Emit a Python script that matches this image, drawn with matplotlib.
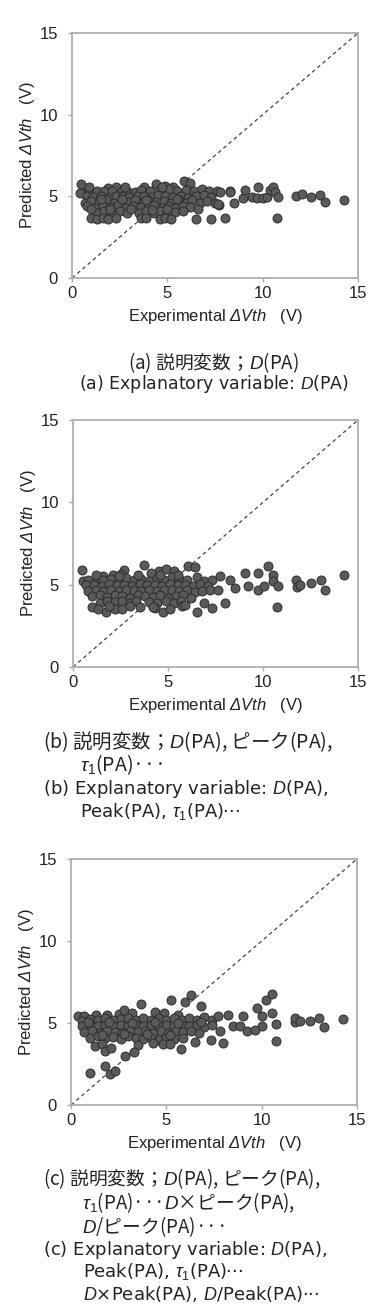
import matplotlib
matplotlib.use("Agg")
import matplotlib.pyplot as plt

# ---- fonts ----
plt.rcParams['font.family'] = ['Liberation Sans', 'DejaVu Sans']
plt.rcParams['mathtext.fontset'] = 'custom'
plt.rcParams['mathtext.rm'] = 'Liberation Sans'
plt.rcParams['mathtext.it'] = 'Liberation Sans:italic'
# sf slot used for fully italic text (Greek capitals included)
plt.rcParams['mathtext.sf'] = 'Liberation Sans:italic'

# ---- data: experimental / predicted dVth (V) ----
a_x = [0.45, 1.9, 2.3, 3.8, 4.4, 4.9, 5.3, 5.9, 6.2,
       0.6, 0.9, 1.3, 1.7, 2.1, 2.6, 2.9, 3.3, 3.6, 4.1, 4.6, 5.1, 5.5, 6.0, 6.4, 6.8, 7.2, 7.6, 8.3,
       0.4, 0.8, 1.1, 1.5, 1.9, 2.3, 2.7, 3.0, 3.4, 3.8, 4.2, 4.5, 4.9, 5.3, 5.7, 6.1, 6.5, 6.9, 7.3,
       0.7, 1.0, 1.4, 1.8, 2.2, 2.6, 3.0, 3.3, 3.7, 4.0, 4.4, 4.8, 5.2, 5.6, 6.0, 6.3, 6.7, 7.1, 7.5, 7.7,
       0.8, 1.2, 1.6, 2.0, 2.4, 2.8, 3.2, 3.6, 4.0, 4.3, 4.7, 5.1, 5.4, 5.8, 6.2,
       1.3, 1.7, 2.1, 2.5, 2.9, 3.5, 3.9, 4.3, 4.6, 5.0, 5.4, 5.8,
       1.0, 1.3, 1.6, 1.9, 2.3, 3.6, 3.9, 4.6, 4.9, 5.2, 6.5, 7.3, 8.0,
       1.0, 2.0, 3.1, 4.2, 5.0, 6.6, 1.5, 2.6, 3.9, 5.5, 0.9, 2.8, 4.7,
       7.76, 7.67, 8.29, 8.51, 8.98, 9.07, 9.42, 9.68, 9.77, 10.03, 10.21, 10.38, 10.56, 10.64,
       10.82, 10.77, 11.75, 12.04, 12.53, 13.0, 13.27, 14.26]
a_y = [5.75, 5.5, 5.55, 5.6, 5.75, 5.65, 5.6, 5.95, 5.8,
       5.2, 5.35, 5.3, 5.3, 5.35, 5.3, 5.35, 5.25, 5.4, 5.35, 5.4, 5.45, 5.3, 5.4, 5.3, 5.45, 5.3, 5.3, 5.3,
       5.2, 5.0, 4.95, 5.05, 4.9, 5.0, 5.05, 4.95, 5.0, 5.05, 4.95, 5.1, 5.0, 4.95, 5.05, 4.9, 5.0, 5.1, 4.95,
       4.6, 4.7, 4.65, 4.75, 4.6, 4.7, 4.65, 4.8, 4.6, 4.75, 4.65, 4.7, 4.6, 4.75, 4.6, 4.75, 4.6, 4.7, 4.6, 4.5,
       4.4, 4.3, 4.4, 4.35, 4.45, 4.3, 4.4, 4.35, 4.3, 4.45, 4.3, 4.4, 4.3, 4.4, 4.35,
       4.0, 4.1, 4.0, 4.1, 3.95, 4.0, 4.1, 4.0, 4.1, 4.0, 4.05, 4.1,
       3.65, 3.6, 3.65, 3.6, 3.65, 3.7, 3.65, 3.6, 3.65, 3.6, 3.6, 3.6, 3.65,
       4.2, 4.2, 4.2, 4.15, 4.2, 4.2, 4.85, 4.85, 4.8, 4.85, 5.55, 5.6, 5.55,
       5.29, 4.51, 5.29, 4.57, 4.88, 5.39, 4.98, 4.88, 5.59, 4.88, 4.98, 5.39, 5.59, 5.29,
       4.98, 3.66, 5.02, 5.12, 4.94, 5.08, 4.63, 4.78]

b_x = [0.46, 1.6, 2.1, 2.7, 3.75, 4.5, 4.9, 5.3, 6.07, 6.4, 2.5, 4.1,
       0.5, 0.8, 1.2, 1.6, 2.0, 2.4, 2.8, 3.2, 3.6, 4.0, 4.4, 4.8, 5.2, 5.6, 6.0, 6.5, 6.9, 7.3, 7.74, 8.26,
       0.7, 1.1, 1.5, 1.9, 2.3, 2.7, 3.1, 3.5, 3.9, 4.3, 4.7, 5.1, 5.5, 5.9, 6.3, 6.7, 7.1,
       0.8, 1.2, 1.6, 2.0, 2.4, 2.8, 3.2, 3.6, 4.0, 4.4, 4.8, 5.2, 5.6, 6.0, 6.4, 6.8, 7.2, 7.65, 8.53,
       1.0, 1.4, 1.8, 2.2, 2.6, 3.0, 3.4, 3.8, 4.2, 4.6, 5.0, 5.4, 5.8, 6.2,
       1.4, 1.8, 2.2, 2.6, 3.0, 3.3, 4.0, 4.4, 4.9, 5.3, 5.7, 6.9, 8.0,
       0.98, 1.3, 1.74, 2.2, 2.6, 3.53, 4.3, 4.75, 5.1, 5.72, 6.5, 7.3,
       1.2, 2.4, 3.4, 4.6, 5.5, 1.9, 3.0, 4.2, 5.9,
       9.05, 9.23, 9.75, 9.75, 10.07, 10.28, 10.54, 10.54, 10.8, 10.75, 11.74, 11.8, 11.95,
       12.53, 13.05, 13.26, 14.26]
b_y = [5.88, 5.5, 5.6, 5.9, 6.18, 5.8, 5.95, 5.8, 6.12, 6.1, 5.65, 5.7,
       5.2, 5.3, 5.25, 5.3, 5.35, 5.3, 5.4, 5.3, 5.35, 5.25, 5.4, 5.3, 5.45, 5.35, 5.3, 5.45, 5.2, 5.3, 5.5, 5.3,
       4.95, 5.0, 4.9, 5.05, 4.95, 5.0, 4.9, 5.05, 4.95, 5.0, 4.9, 5.05, 4.95, 5.0, 4.9, 5.05, 4.9,
       4.6, 4.7, 4.6, 4.7, 4.6, 4.65, 4.7, 4.6, 4.7, 4.6, 4.65, 4.7, 4.6, 4.65, 4.55, 4.6, 4.7, 4.7, 4.8,
       4.3, 4.35, 4.25, 4.35, 4.3, 4.2, 4.35, 4.3, 4.25, 4.35, 4.2, 4.3, 4.35, 4.2,
       3.9, 4.0, 3.95, 4.0, 3.9, 4.0, 3.95, 3.9, 4.0, 3.9, 4.0, 3.9, 3.88,
       3.66, 3.5, 3.35, 3.55, 3.5, 3.66, 3.6, 3.35, 3.5, 3.7, 3.35, 3.56,
       5.6, 5.55, 5.6, 5.6, 5.6, 3.7, 3.7, 3.65, 3.75,
       5.7, 4.89, 5.7, 4.65, 4.89, 6.14, 5.6, 5.25, 4.89, 3.64, 5.3, 4.85, 4.99,
       5.09, 5.3, 4.65, 5.6]

c_x = [0.37, 0.7, 1.3, 1.9, 2.5, 2.8, 3.67, 4.4, 5.26, 5.96, 6.28, 6.83, 3.2, 4.9, 5.6,
       0.6, 1.0, 1.4, 1.8, 2.2, 2.6, 3.0, 3.4, 3.8, 4.2, 4.6, 5.0, 5.4, 5.8, 6.2, 6.6, 7.0, 7.4, 7.72, 8.25,
       0.6, 1.0, 1.4, 1.8, 2.2, 2.6, 3.0, 3.4, 3.8, 4.2, 4.6, 5.0, 5.4, 5.8, 6.2, 6.6, 7.0, 7.4,
       0.7, 1.1, 1.5, 1.9, 2.3, 2.7, 3.1, 3.5, 3.9, 4.3, 4.7, 5.1, 5.5, 5.9, 6.3, 6.7, 7.81,
       1.0, 1.4, 1.8, 2.2, 2.6, 3.0, 3.4, 3.8, 4.2, 4.6, 5.0, 5.4, 5.9, 7.33,
       1.24, 1.6, 1.77, 2.1, 3.51, 4.3, 4.8, 5.2, 5.78, 6.49, 7.97,
       0.98, 1.77, 2.03, 2.29, 2.82, 3.3,
       0.9, 2.0, 3.2, 4.4, 5.6, 6.8, 1.6, 2.8, 4.0, 5.2,
       8.51, 8.86, 9.04, 9.21, 9.65, 9.74, 10.0, 10.0, 10.22, 10.52, 10.52, 10.75, 10.75,
       11.75, 11.75, 12.0, 12.53, 13.02, 13.28, 14.28]
c_y = [5.41, 5.45, 5.5, 5.5, 5.55, 5.8, 6.18, 5.7, 6.38, 6.26, 6.73, 6.05, 5.6, 5.6, 5.5,
       5.1, 5.25, 5.2, 5.3, 5.2, 5.25, 5.3, 5.2, 5.3, 5.2, 5.3, 5.2, 5.3, 5.2, 5.3, 5.2, 5.35, 5.2, 5.41, 5.51,
       4.8, 4.9, 4.8, 4.9, 4.8, 4.85, 4.8, 4.9, 4.8, 4.9, 4.8, 4.9, 4.8, 4.9, 4.8, 4.9, 4.75, 4.85,
       4.45, 4.5, 4.4, 4.5, 4.45, 4.4, 4.5, 4.45, 4.5, 4.4, 4.5, 4.4, 4.5, 4.45, 4.5, 4.4, 4.49,
       4.1, 4.2, 4.1, 4.15, 4.05, 4.2, 4.1, 4.0, 4.1, 3.95, 4.1, 4.0, 4.1, 3.98,
       3.58, 3.7, 3.27, 3.5, 3.68, 3.8, 3.75, 3.7, 3.41, 3.82, 3.78,
       1.95, 2.36, 1.91, 2.05, 3.0, 3.23,
       5.05, 5.05, 5.0, 5.05, 5.0, 5.05, 4.25, 4.3, 4.3, 4.25,
       4.8, 4.8, 5.41, 4.5, 4.6, 5.91, 5.41, 4.8, 6.42, 6.79, 5.61, 4.96, 3.88,
       5.06, 5.3, 5.1, 5.1, 5.3, 4.76, 5.26]

ticks = [0, 5, 10, 15]
xlabel = 'Experimental $\\mathsf{\u0394Vth}$   (V)'
ylabel = 'Predicted $\\mathsf{\u0394Vth}$   (V)'

# caption lines: (text, x px, y px, ha, size, english line?)
cap_a = [('(a) 説明変数；$D$(PA)', 213, 363, 'center', 13.5, False),
         ('(a) Explanatory variable: $D$(PA)', 214, 384, 'center', 12.5, True)]
cap_b = [('(b) 説明変数；$D$(PA), ピーク(PA),', 43, 742, 'left', 14, False),
         ('$\\tau_1$(PA)···', 80, 765, 'left', 14, False),
         ('(b) Explanatory variable: $D$(PA),', 43, 789, 'left', 13, True),
         ('Peak(PA), $\\tau_1$(PA)···', 80, 812, 'left', 13, True)]
cap_c = [('(c) 説明変数；$D$(PA), ピーク(PA),', 43, 1179, 'left', 13.5, False),
         ('$\\tau_1$(PA)···$D$×ピーク(PA),', 82, 1203, 'left', 13.5, False),
         ('$D$/ピーク(PA)···', 82, 1227, 'left', 13.5, False),
         ('(c) Explanatory variable: $D$(PA),', 43, 1250, 'left', 13, True),
         ('Peak(PA), $\\tau_1$(PA)···', 83, 1272, 'left', 13, True),
         ('$D$×Peak(PA), $D$/Peak(PA)···', 83, 1294, 'left', 13, True)]

W, H = 371, 1306
fig = plt.figure(figsize=(W / 100, H / 100), dpi=100)

# axes boxes in pixels: left, top, right, bottom
boxes = [(72, 33, 358, 278), (73, 420, 358, 667), (71, 859, 357, 1105)]
panels = [(a_x, a_y), (b_x, b_y), (c_x, c_y)]

for (l, t, r, b), (xs, ys) in zip(boxes, panels):
    ax = fig.add_axes([l / W, 1 - b / H, (r - l) / W, (b - t) / H])
    ax.plot([0, 15], [0, 15], ls=(0, (3, 2.5)), color='#444444', lw=0.9, zorder=1)
    ax.scatter(xs, ys, s=42, c='#5a5a5a', edgecolors='#2e2e2e', linewidths=0.7, zorder=2)
    ax.set_xlim(0, 15)
    ax.set_ylim(0, 15)
    ax.set_xticks(ticks)
    ax.set_yticks(ticks)
    for sp in ax.spines.values():
        sp.set_color('#a8a8a8')
        sp.set_linewidth(1.2)
    ax.tick_params(axis='both', colors='#a8a8a8', labelcolor='#222222', labelsize=12,
                   length=3, width=1)
    ax.tick_params(axis='x', pad=3)
    ax.tick_params(axis='y', pad=7)
    ax.set_xlabel(xlabel, fontsize=12, color='#222222', labelpad=4)
    ax.set_ylabel(ylabel, fontsize=12, color='#222222', labelpad=2)

for cap in (cap_a, cap_b, cap_c):
    for txt, x, y, ha, size, eng in cap:
        fam = ['DejaVu Sans'] if eng else ['Noto Sans CJK JP', 'DejaVu Sans']
        fig.text(x / W, 1 - y / H, txt, ha=ha, va='center', fontsize=size,
                 family=fam, color='#222222')

fig.savefig('out.png', dpi=100)
